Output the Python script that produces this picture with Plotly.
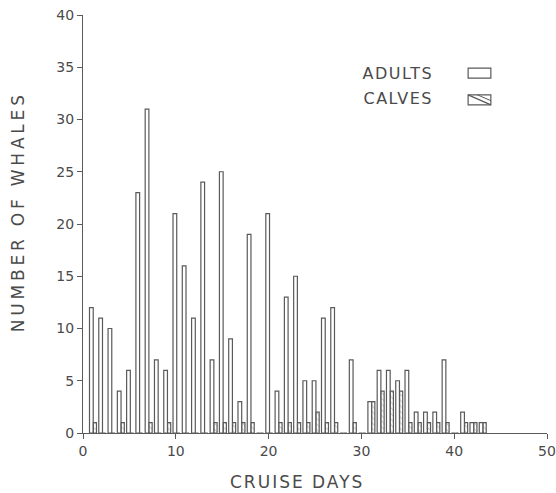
import plotly.graph_objects as go

days = list(range(1, 44))
adults = [12, 11, 10, 4, 6, 23, 31, 7, 6, 21,
          16, 11, 24, 7, 25, 9, 3, 19, 0, 21,
          4, 13, 15, 5, 5, 11, 12, 0, 7, 0,
          3, 6, 6, 5, 6, 2, 2, 2, 7, 0,
          2, 1, 1]
calves = [1, 0, 0, 1, 0, 0, 1, 0, 1, 0,
          0, 0, 0, 1, 1, 1, 1, 1, 0, 0,
          1, 1, 1, 1, 2, 1, 1, 0, 1, 0,
          3, 4, 4, 4, 1, 1, 1, 1, 1, 0,
          1, 1, 1]

x_ticks = [0, 10, 20, 30, 40, 50]
y_ticks = [0, 5, 10, 15, 20, 25, 30, 35, 40]

LINE = "#5a5a5a"
TEXT = "#4a4a4a"
FONT = "DejaVu Sans"

fig = go.Figure()
fig.add_trace(go.Bar(
    x=days, y=adults, name="ADULTS",
    width=0.4, offset=-0.3,
    marker=dict(color="white", line=dict(color=LINE, width=1.2)),
    showlegend=False,
))
fig.add_trace(go.Bar(
    x=days, y=calves, name="CALVES",
    width=0.33, offset=0.12,
    marker=dict(color="white", line=dict(color=LINE, width=1.2),
                pattern=dict(shape="\\", fgcolor=LINE, size=4, solidity=0.2)),
    showlegend=False,
))

fig.update_layout(
    width=556, height=493,
    margin=dict(l=83, r=9, t=15, b=60),
    plot_bgcolor="white", paper_bgcolor="white",
    barmode="overlay",
    font=dict(family=FONT, color=TEXT, size=14),
    xaxis=dict(
        range=[0, 50], tickvals=x_ticks, ticks="outside", ticklen=5,
        tickcolor=LINE, showline=True, linecolor=LINE, linewidth=1.2,
        showgrid=False, zeroline=False, automargin=False,
        tickfont=dict(size=14, color=TEXT),
    ),
    yaxis=dict(
        range=[0, 40], tickvals=y_ticks, ticks="outside", ticklen=5,
        tickcolor=LINE, showline=True, linecolor=LINE, linewidth=1.2,
        showgrid=False, zeroline=False, automargin=False,
        tickfont=dict(size=14, color=TEXT),
    ),
)

# axis titles
fig.add_annotation(xref="paper", yref="paper", x=0.461, y=-0.117, text="CRUISE DAYS",
                   showarrow=False, xanchor="center", yanchor="middle",
                   font=dict(size=17, color=TEXT, family=FONT), name="xt")
fig.add_annotation(xref="paper", yref="paper", x=-0.140, y=0.529, text="NUMBER OF WHALES",
                   showarrow=False, xanchor="center", yanchor="middle", textangle=-90,
                   font=dict(size=17, color=TEXT, family=FONT), name="yt")

# legend (text on the left, key box on the right, as in the original)
fig.add_annotation(xref="paper", yref="paper", x=0.678, y=0.859, text="ADULTS",
                   showarrow=False, xanchor="center", yanchor="middle",
                   font=dict(size=16, color=TEXT, family=FONT))
fig.add_annotation(xref="paper", yref="paper", x=0.678, y=0.800, text="CALVES",
                   showarrow=False, xanchor="center", yanchor="middle",
                   font=dict(size=16, color=TEXT, family=FONT))
fig.add_shape(type="rect", xref="paper", yref="paper", x0=0.830, x1=0.879,
              y0=0.849, y1=0.873, line=dict(color=LINE, width=1.2), fillcolor="white")
fig.add_shape(type="rect", xref="paper", yref="paper", x0=0.830, x1=0.879,
              y0=0.785, y1=0.809, line=dict(color=LINE, width=1.2), fillcolor="white")
fig.add_shape(type="line", xref="paper", yref="paper", x0=0.830, x1=0.879,
              y0=0.809, y1=0.785, line=dict(color=LINE, width=1.2))
fig.add_shape(type="line", xref="paper", yref="paper", x0=0.850, x1=0.879,
              y0=0.809, y1=0.795, line=dict(color=LINE, width=1.0))

post = """
var gd = document.getElementById('{plot_id}');
var spacing = {'CRUISE DAYS': '2px', 'NUMBER OF WHALES': '3.8px', 'ADULTS': '1.5px', 'CALVES': '1.5px'};
gd.querySelectorAll('text.annotation-text').forEach(function(t){
  var s = spacing[t.textContent];
  if (s) { t.setAttribute('letter-spacing', s); t.style.letterSpacing = s; }
});
"""

fig.write_html("out.html", post_script=post)
